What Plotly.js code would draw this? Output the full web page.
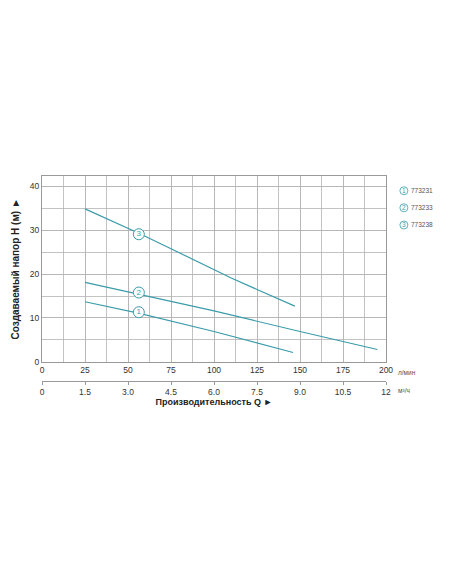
<!DOCTYPE html>
<html>
<head>
<meta charset="utf-8">
<script src="https://cdn.plot.ly/plotly-3.0.1.min.js"></script>
<style>
  html, body { margin: 0; padding: 0; background: #fff; }
  #chart { width: 452px; height: 584px; }
</style>
</head>
<body>
<div id="chart"></div>
<script>
// flow in l/min, head in m
const q1 = [25, 56, 100, 146];
const h1 = [13.7, 11.1, 6.9, 2.1];
const q2 = [25, 56, 100, 150, 175, 195];
const h2 = [18.1, 15.4, 11.6, 6.9, 4.6, 2.8];
const q3 = [25, 56, 75, 110, 125, 147];
const h3 = [34.9, 29.4, 25.8, 19.1, 16.5, 12.7];

const models = ["773231", "773233", "773238"];
const badgeQ = [56.3, 56.3, 56.3];
const badgeH = [11.3, 15.8, 29.1];

const m3hTicks = [0, 1.5, 3.0, 4.5, 6.0, 7.5, 9.0, 10.5, 12];
const m3hText = ["0", "1.5", "3.0", "4.5", "6.0", "7.5", "9.0", "10.5", "12"];

const teal = "#3b9cab";
const gridCol = "#b4b4b4";
const font = "Liberation Sans, Arial, sans-serif";

const series = [[q1, h1], [q2, h2], [q3, h3]];
const data = series.map(s => ({
    type: "scatter",
    mode: "lines",
    x: s[0],
    y: s[1],
    line: {color: teal, width: 1.2},
    hoverinfo: "skip",
    showlegend: false,
}));
data.push({
    type: "scatter",
    mode: "markers+text",
    x: badgeQ,
    y: badgeH,
    text: ["1", "2", "3"],
    textposition: "middle center",
    textfont: {family: font, size: 8, color: teal},
    marker: {symbol: "circle", size: 11, color: "#fff", line: {color: teal, width: 1}},
    showlegend: false,
    cliponaxis: false,
});
// dummy trace so the m3/h axis gets drawn
data.push({
    type: "scatter", mode: "markers", x: [0, 12], y: [0, 0],
    xaxis: "x2", yaxis: "y", marker: {opacity: 0}, showlegend: false, hoverinfo: "skip",
});

const annotations = [];
const shapes = [];
const legY = [0.928, 0.845, 0.761];
models.forEach((m, i) => {
    shapes.push({
        type: "circle", xref: "paper", yref: "paper",
        xsizemode: "pixel", ysizemode: "pixel",
        xanchor: 1.052, yanchor: legY[i],
        x0: -4, x1: 4, y0: -4, y1: 4,
        line: {color: teal, width: 0.8},
    });
    annotations.push({
        xref: "paper", yref: "paper", x: 1.052, y: legY[i],
        text: String(i + 1), showarrow: false,
        font: {family: font, size: 6.5, color: teal},
        xanchor: "center", yanchor: "middle",
    });
    annotations.push({
        xref: "paper", yref: "paper", x: 1.068, y: legY[i],
        text: m, showarrow: false,
        font: {family: font, size: 6.5, color: "#555"},
        xanchor: "left", yanchor: "middle",
    });
});
annotations.push({
    xref: "paper", yref: "paper", x: 1.03, y: 0.042,
    text: "л/мин", showarrow: false, xanchor: "left", yanchor: "middle",
    font: {family: font, size: 6.5, color: "#555"},
});
annotations.push({
    xref: "paper", yref: "paper", x: 1.03, y: -0.045,
    text: "м³/ч", showarrow: false, xanchor: "left", yanchor: "middle",
    font: {family: font, size: 6.5, color: "#555"},
});

const layout = {
    width: 452,
    height: 584,
    margin: {l: 42, r: 66, t: 176, b: 203},
    paper_bgcolor: "#fff",
    plot_bgcolor: "#fff",
    font: {family: font, color: "#333"},
    showlegend: false,
    xaxis: {
        range: [0, 200],
        tickvals: [0, 25, 50, 75, 100, 125, 150, 175, 200],
        showgrid: true, gridcolor: gridCol, gridwidth: 0.8,
        minor: {dtick: 12.5, tick0: 0, showgrid: true, gridcolor: gridCol, gridwidth: 0.8},
        showline: true, linecolor: "#999", linewidth: 1, mirror: true,
        zeroline: false, ticks: "",
        tickfont: {family: font, size: 8.5, color: "#333"},
        anchor: "y",
        fixedrange: true,
    },
    xaxis2: {
        overlaying: "x",
        anchor: "free",
        position: 0,
        side: "bottom",
        range: [0, 12],
        tickvals: m3hTicks,
        ticktext: m3hText,
        showgrid: false, zeroline: false,
        showline: true, linecolor: "#999", linewidth: 1,
        ticks: "outside", ticklen: 2.5, tickcolor: "#999",
        tickfont: {family: font, size: 8.5, color: "#333"},
        title: {
            text: "<b>Производительность Q ►</b>",
            font: {family: font, size: 9, color: "#222"},
            standoff: 2,
        },
        fixedrange: true,
    },
    yaxis: {
        domain: [0.094, 1],
        range: [0, 42.4],
        tickvals: [0, 10, 20, 30, 40],
        showgrid: true, gridcolor: gridCol, gridwidth: 0.8,
        minor: {dtick: 5, tick0: 0, showgrid: true, gridcolor: gridCol, gridwidth: 0.8},
        showline: true, linecolor: "#999", linewidth: 1, mirror: true,
        zeroline: false, ticks: "",
        tickfont: {family: font, size: 8.5, color: "#333"},
        title: {
            text: "<b>Создаваемый напор H (м) ►</b>",
            font: {family: font, size: 10, color: "#222"},
            standoff: 8,
        },
        fixedrange: true,
    },
    shapes,
    annotations,
};

Plotly.newPlot("chart", data, layout, {displayModeBar: false, staticPlot: true});
</script>
</body>
</html>
